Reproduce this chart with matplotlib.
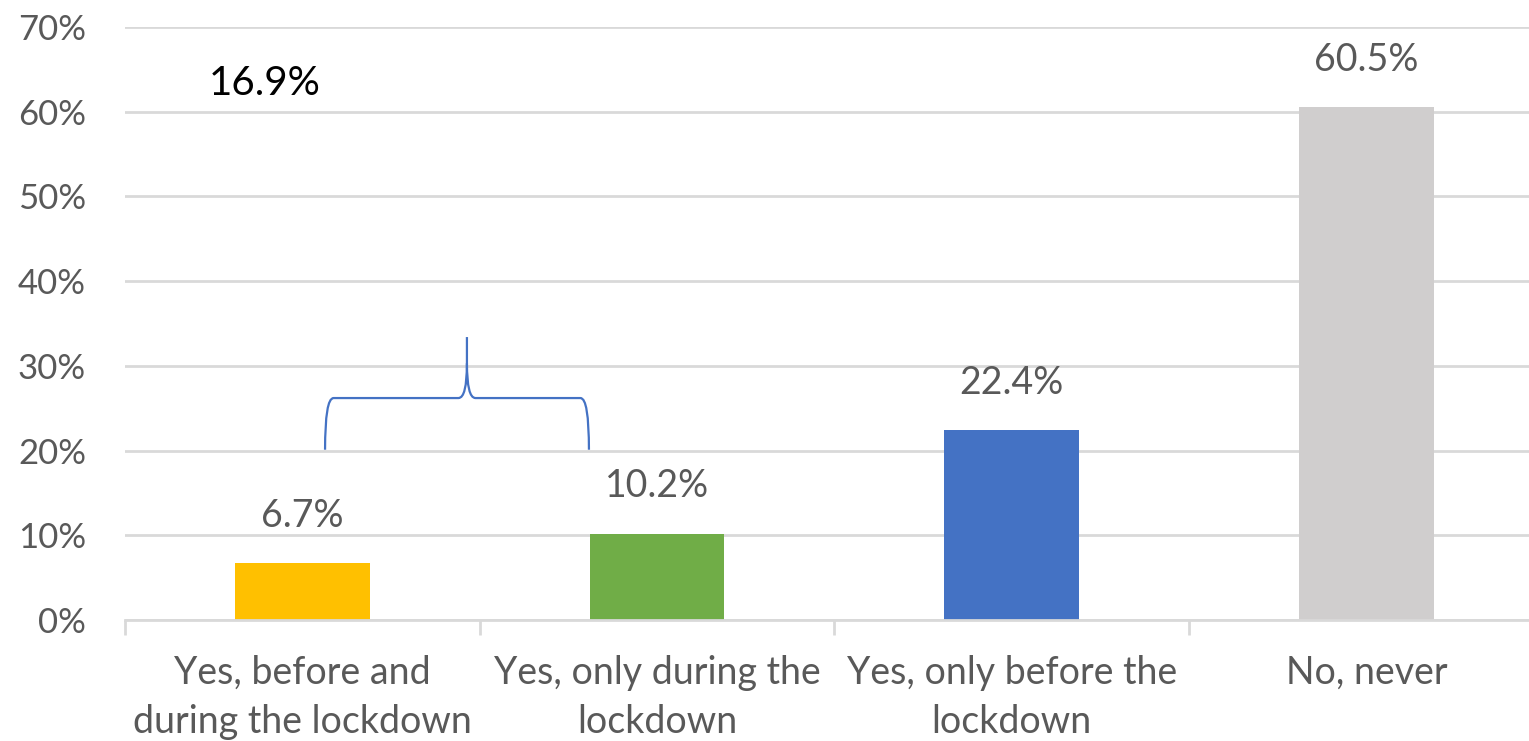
import matplotlib
matplotlib.use("Agg")
import matplotlib.pyplot as plt
from matplotlib.path import Path
from matplotlib.patches import PathPatch

# ---- data ----
categories = ["Yes, before and\nduring the lockdown",
              "Yes, only during the\nlockdown",
              "Yes, only before the\nlockdown",
              "No, never"]
values = [6.7, 10.2, 22.4, 60.5]
value_labels = ["6.7%", "10.2%", "22.4%", "60.5%"]
bar_colors = ["#FFC000", "#70AD47", "#4472C4", "#D0CECE"]
y_ticks = [0, 10, 20, 30, 40, 50, 60, 70]
y_tick_labels = ["0%", "10%", "20%", "30%", "40%", "50%", "60%", "70%"]
combined_label = "16.9%"

W, H = 1529, 741
fig = plt.figure(figsize=(W / 100, H / 100), dpi=100)
left_px, bottom_px, top_px = 125, 620, 27
cat_px = 354.7
ax = fig.add_axes([left_px / W, 1 - bottom_px / H, (W - left_px) / W, (bottom_px - top_px) / H])

font = ["Lato", "DejaVu Sans"]
text_color = "#595959"
grid_color = "#D9D9D9"

x = list(range(len(categories)))
ax.bar(x, values, width=0.38, color=bar_colors, zorder=3)

for xi, v, lab in zip(x, values, value_labels):
    ax.annotate(lab, (xi, v), xytext=(0, 34), textcoords="offset points",
                ha="center", va="center", fontsize=27, color=text_color, family=font)

# gridlines
ax.set_yticks(y_ticks)
ax.set_yticklabels(y_tick_labels, fontsize=25, color=text_color, family=font)
ax.yaxis.grid(True, color=grid_color, linewidth=2, zorder=0)
ax.tick_params(axis="y", length=0, pad=28)

# category axis with boundary ticks
ax.set_xticks(x)
ax.set_xticklabels(categories, fontsize=27, color=text_color, family=font, linespacing=1.45)
ax.tick_params(axis="x", length=0, pad=25)
ax.set_xticks([i - 0.5 for i in range(len(categories) + 1)], minor=True)
ax.tick_params(axis="x", which="minor", length=11, width=2, color=grid_color)

ax.set_xlim(-0.5, -0.5 + (W - left_px) / cat_px)
ax.set_ylim(0, 70)

for s in ["top", "right", "left"]:
    ax.spines[s].set_visible(False)
ax.spines["bottom"].set_color(grid_color)
ax.spines["bottom"].set_linewidth(2)
ax.spines["bottom"].set_zorder(4)

# curly bracket annotation
bx0, bx1, bmid = 0.064, 0.808, 0.464
by0, byh, bytip, bytop = 20.1, 26.2, 30.3, 33.4
dx = 0.024
verts = [(bx0, by0), (bx0, byh), (bx0 + dx, byh),
         (bmid - dx, byh),
         (bmid, byh), (bmid, bytip),
         (bmid, bytop),
         (bmid, bytip),
         (bmid, byh), (bmid + dx, byh),
         (bx1 - dx, byh),
         (bx1, byh), (bx1, by0)]
codes = [Path.MOVETO, Path.CURVE3, Path.CURVE3,
         Path.LINETO,
         Path.CURVE3, Path.CURVE3,
         Path.LINETO,
         Path.MOVETO,
         Path.CURVE3, Path.CURVE3,
         Path.LINETO,
         Path.CURVE3, Path.CURVE3]
ax.add_patch(PathPatch(Path(verts, codes), facecolor="none", edgecolor="#4472C4",
                       linewidth=1.6, zorder=5, clip_on=False))

ax.text(-0.105, 63.3, combined_label, ha="center", va="center", fontsize=29,
        color="black", family=font)

fig.savefig("out.png", dpi=100)
